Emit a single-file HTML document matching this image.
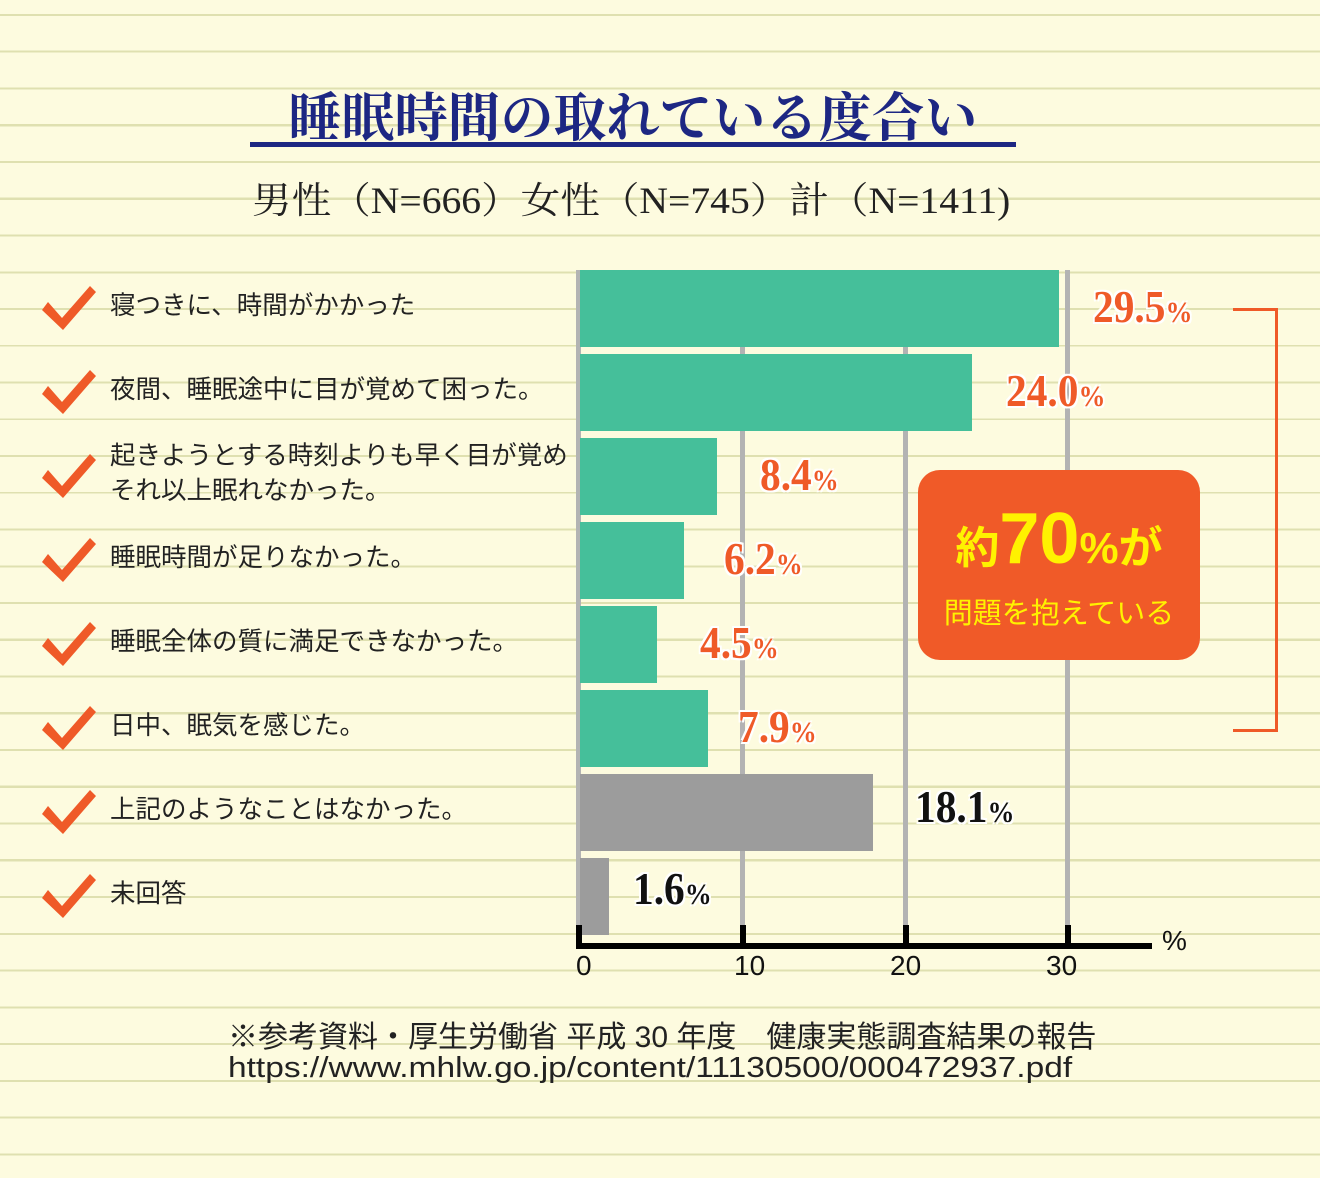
<!DOCTYPE html>
<html><head><meta charset="utf-8"><style>
body{margin:0;}
#c{position:relative;width:1320px;height:1178px;overflow:hidden;background:#fdfbdf;
background-image:repeating-linear-gradient(to bottom,transparent 0,transparent 14px,#dfe0b0 14px,#dfe0b0 16px,transparent 16px,transparent 36.75px);
font-family:"Liberation Sans","Noto Sans CJK JP",sans-serif;}
.a{position:absolute;}
.t{white-space:nowrap;}
.bar{position:absolute;left:580px;height:77px;background:#45bf9a;}
.g{background:#9c9c9c;}
.lab{position:absolute;left:110px;font-size:25.5px;color:#222;line-height:35px;white-space:nowrap;}
.v{position:absolute;font-family:"Liberation Serif",serif;font-weight:bold;font-size:46px;color:#ef5a28;white-space:nowrap;transform:scaleX(0.9);transform-origin:left;
text-shadow:0 0 3px #fff,2px 2px 0 #fff,-2px -2px 0 #fff,2px -2px 0 #fff,-2px 2px 0 #fff;}
.v small{font-size:30px;}
.k{color:#111;}
.grid{position:absolute;top:270px;width:5px;height:656px;background:#b3b3b3;}
</style></head><body><div id="c">
<div class="a t" style="left:250px;top:76px;width:766px;text-align:center;font-family:'Liberation Serif','Noto Serif CJK SC',serif;font-weight:bold;font-size:53px;color:#1d2783;">睡眠時間の取れている度合い</div>
<div class="a" style="left:250px;top:142px;width:766px;height:5px;background:#1d2783"></div>
<div class="a t" style="left:252px;top:170px;font-family:'Liberation Serif','Noto Serif CJK SC',serif;font-size:37px;color:#222;transform:scaleX(1.07);transform-origin:left;">男性（N=666）女性（N=745）計（N=1411)</div>

<div class="grid" style="left:576px"></div>
<div class="grid" style="left:740px"></div>
<div class="grid" style="left:903px"></div>
<div class="grid" style="left:1065px"></div>

<div class="bar" style="top:270px;width:479px"></div>
<div class="bar" style="top:354px;width:392px"></div>
<div class="bar" style="top:438px;width:137px"></div>
<div class="bar" style="top:522px;width:104px"></div>
<div class="bar" style="top:606px;width:77px"></div>
<div class="bar" style="top:690px;width:128px"></div>
<div class="bar g" style="top:774px;width:293px"></div>
<div class="bar g" style="top:858px;width:29px"></div>

<div class="a" style="left:576px;top:943px;width:576px;height:6px;background:#000"></div>
<div class="a" style="left:576px;top:925px;width:6px;height:22px;background:#000"></div>
<div class="a" style="left:740px;top:925px;width:6px;height:22px;background:#000"></div>
<div class="a" style="left:903px;top:925px;width:6px;height:22px;background:#000"></div>
<div class="a" style="left:1065px;top:925px;width:6px;height:22px;background:#000"></div>
<div class="a t" style="left:576px;top:950px;font-size:28px;color:#111;">0</div>
<div class="a t" style="left:734px;top:950px;font-size:28px;color:#111;">10</div>
<div class="a t" style="left:890px;top:950px;font-size:28px;color:#111;">20</div>
<div class="a t" style="left:1046px;top:950px;font-size:28px;color:#111;">30</div>
<div class="a t" style="left:1162px;top:925px;font-size:28px;color:#111;">%</div>

<div class="v" style="left:1093px;top:280px">29.5<small>%</small></div>
<div class="v" style="left:1006px;top:364px">24.0<small>%</small></div>
<div class="v" style="left:760px;top:448px">8.4<small>%</small></div>
<div class="v" style="left:724px;top:532px">6.2<small>%</small></div>
<div class="v" style="left:700px;top:616px">4.5<small>%</small></div>
<div class="v" style="left:738px;top:700px">7.9<small>%</small></div>
<div class="v k" style="left:915px;top:780px">18.1<small>%</small></div>
<div class="v k" style="left:633px;top:862px">1.6<small>%</small></div>

<div class="a" style="left:1233px;top:308px;width:42px;height:418px;border:3px solid #ef5a28;border-left:none;"></div>
<div class="a" style="left:918px;top:470px;width:282px;height:190px;background:#f05a28;border-radius:22px;"></div>
<div class="a t" style="left:918px;top:498px;width:282px;text-align:center;color:#fff200;font-weight:bold;"><span style="font-size:44px">約</span><span style="font-size:72px">70</span><span style="font-size:44px">%が</span></div>
<div class="a t" style="left:918px;top:590px;width:282px;text-align:center;color:#fff200;font-size:29px;">問題を抱えている</div>

<svg class="a" style="left:0;top:0" width="110" height="940">
<defs><path id="ck" d="M48 302 L62 318 L90 286 L96 292 L63 330 L42 310 Z" fill="#ef5a28"/></defs>
<use href="#ck" y="0"/><use href="#ck" y="84"/><use href="#ck" y="168"/><use href="#ck" y="252"/>
<use href="#ck" y="336"/><use href="#ck" y="420"/><use href="#ck" y="504"/><use href="#ck" y="588"/>
</svg>
<div class="lab" style="top:289px">寝つきに、時間がかかった</div>
<div class="lab" style="top:373px">夜間、睡眠途中に目が覚めて困った。</div>
<div class="lab" style="top:439px">起きようとする時刻よりも早く目が覚め<br>それ以上眠れなかった。</div>
<div class="lab" style="top:541px">睡眠時間が足りなかった。</div>
<div class="lab" style="top:625px">睡眠全体の質に満足できなかった。</div>
<div class="lab" style="top:709px">日中、眠気を感じた。</div>
<div class="lab" style="top:793px">上記のようなことはなかった。</div>
<div class="lab" style="top:877px">未回答</div>

<div class="a t" style="left:228px;top:1012px;font-size:30px;color:#222;">※参考資料・厚生労働省 平成 30 年度　健康実態調査結果の報告</div>
<div class="a t" style="left:228px;top:1052px;font-size:29px;color:#222;transform:scaleX(1.155);transform-origin:left;">https://www.mhlw.go.jp/content/11130500/000472937.pdf</div>
</div></body></html>
